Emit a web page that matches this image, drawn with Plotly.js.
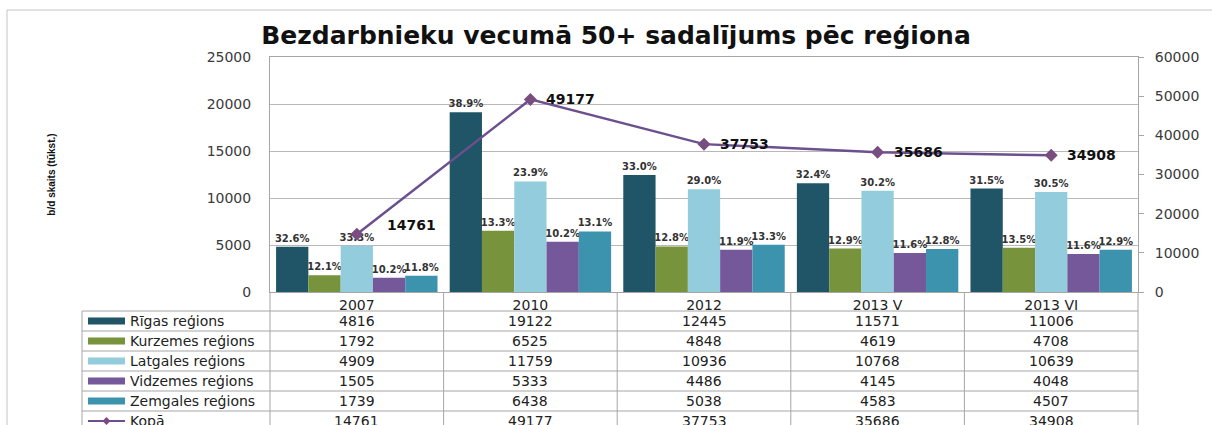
<!DOCTYPE html>
<html><head><meta charset="utf-8">
<script src="https://cdn.plot.ly/plotly-3.0.1.min.js"></script>
<style>html,body{margin:0;padding:0;background:#fff;}#chart{width:1212px;height:425px;}</style>
</head><body><div id="chart"></div>
<script>
// ---- data ----
const categories = ['2007', '2010', '2012', '2013 V', '2013 VI'];
const seriesNames = ['Rīgas reģions', 'Kurzemes reģions', 'Latgales reģions', 'Vidzemes reģions', 'Zemgales reģions'];
const rigas    = [4816, 19122, 12445, 11571, 11006];
const kurzemes = [1792, 6525, 4848, 4619, 4708];
const latgales = [4909, 11759, 10936, 10768, 10639];
const vidzemes = [1505, 5333, 4486, 4145, 4048];
const zemgales = [1739, 6438, 5038, 4583, 4507];
const kopa     = [14761, 49177, 37753, 35686, 34908];
const rigasPct    = ['32.6%', '38.9%', '33.0%', '32.4%', '31.5%'];
const kurzemesPct = ['12.1%', '13.3%', '12.8%', '12.9%', '13.5%'];
const latgalesPct = ['33.3%', '23.9%', '29.0%', '30.2%', '30.5%'];
const vidzemesPct = ['10.2%', '10.2%', '11.9%', '11.6%', '11.6%'];
const zemgalesPct = ['11.8%', '13.1%', '13.3%', '12.8%', '12.9%'];
const totalName = 'Kopā';
const chartTitle = 'Bezdarbnieku vecumā 50+ sadalījums pēc reģiona';
const yTitle = 'b/d skaits (tūkst.)';

// ---- styles ----
const colors = ['#1f5566', '#77933c', '#93cddd', '#75589a', '#3c93ad'];
const lineColor = '#6b4f8e';
const markerColor = '#7a4d80';
const gridColor = '#b8b8b8';
const axisColor = '#a6a6a6';
const tickColor = '#3a3a3a';

const W = 1212, H = 425;
const plotLeft = 270, plotRight = 1138, plotTop = 57, plotBottom = 292;
const plotW = plotRight - plotLeft, plotH = plotBottom - plotTop;
const px2x = p => (p - plotLeft) / plotW;
const px2y = p => (plotBottom - p) / plotH;

const values = [rigas, kurzemes, latgales, vidzemes, zemgales];
const pcts = [rigasPct, kurzemesPct, latgalesPct, vidzemesPct, zemgalesPct];

const traces = values.map((v, i) => ({
  type: 'bar', name: seriesNames[i], x: categories, y: v,
  marker: {color: colors[i]},
  text: pcts[i], textposition: 'outside', cliponaxis: false, constraintext: 'none',
  textfont: {family: 'DejaVu Sans', size: 10, color: '#333', weight: 'bold'},
  hoverinfo: 'x+y+name'
}));
traces.push({
  type: 'scatter', mode: 'lines+markers', name: totalName, x: categories, y: kopa, yaxis: 'y2',
  line: {color: lineColor, width: 2.5},
  marker: {symbol: 'diamond', size: 10, color: markerColor},
  cliponaxis: false
});

const annotations = [];
// line value labels (x given as category index on the category axis)
kopa.forEach((v, i) => {
  annotations.push({
    x: i, xref: 'x', y: v, yref: 'y2', text: String(v), showarrow: false,
    xanchor: 'left', yanchor: 'middle', xshift: i === 0 ? 28 : 14, yshift: i === 0 ? 9 : 0,
    font: {family: 'DejaVu Sans', size: 14, color: '#111', weight: 'bold'}
  });
});

// data table below the plot
const rowH = 20, tableTop = 311;
const shapes = [];
const rows = values.concat([kopa]);
const rowNames = seriesNames.concat([totalName]);
const legLeft = 82, swX0 = 88, swX1 = 125, nameX = 128;
rows.forEach((r, ri) => {
  const cy = tableTop + rowH * ri + rowH / 2;
  r.forEach((v, ci) => {
    annotations.push({
      x: ci, xref: 'x', y: px2y(cy), yref: 'paper', text: String(v), showarrow: false,
      xanchor: 'center', yanchor: 'middle',
      font: {family: 'DejaVu Sans', size: 14, color: '#222'}
    });
  });
  annotations.push({
    x: px2x(nameX), xref: 'paper', y: px2y(cy), yref: 'paper', text: rowNames[ri], showarrow: false,
    xanchor: 'left', yanchor: 'middle',
    font: {family: 'DejaVu Sans', size: 14, color: '#222'}
  });
  if (ri < values.length) {
    shapes.push({type: 'rect', xref: 'paper', yref: 'paper', x0: px2x(swX0), x1: px2x(swX1),
      y0: px2y(cy - 3.5), y1: px2y(cy + 3.5), fillcolor: colors[ri], line: {width: 0}});
  } else {
    shapes.push({type: 'line', xref: 'paper', yref: 'paper', x0: px2x(swX0), x1: px2x(swX1),
      y0: px2y(cy), y1: px2y(cy), line: {color: lineColor, width: 2}});
    const mx = (swX0 + swX1) / 2, d = 4;
    shapes.push({type: 'path', xref: 'paper', yref: 'paper',
      path: `M ${px2x(mx)},${px2y(cy - d)} L ${px2x(mx + d)},${px2y(cy)} L ${px2x(mx)},${px2y(cy + d)} L ${px2x(mx - d)},${px2y(cy)} Z`,
      fillcolor: markerColor, line: {width: 0}});
  }
  shapes.push({type: 'line', xref: 'paper', yref: 'paper', x0: px2x(legLeft), x1: 1,
    y0: px2y(tableTop + rowH * ri), y1: px2y(tableTop + rowH * ri), line: {color: axisColor, width: 1}});
});
for (let k = 0; k <= categories.length; k++) {
  shapes.push({type: 'line', xref: 'paper', yref: 'paper', x0: k / categories.length, x1: k / categories.length,
    y0: 0, y1: px2y(H + 20), line: {color: axisColor, width: 1}});
}
shapes.push({type: 'line', xref: 'paper', yref: 'paper', x0: px2x(legLeft), x1: px2x(legLeft),
  y0: px2y(tableTop), y1: px2y(H + 20), line: {color: axisColor, width: 1}});
// outer chart border
shapes.push({type: 'rect', xref: 'paper', yref: 'paper', x0: px2x(7), x1: px2x(W + 20),
  y0: px2y(H + 20), y1: px2y(10), line: {color: '#c4c4c4', width: 1}, fillcolor: 'rgba(0,0,0,0)'});

const layout = {
  width: W, height: H,
  margin: {l: plotLeft, r: W - plotRight, t: plotTop, b: H - plotBottom, pad: 0},
  paper_bgcolor: '#fff', plot_bgcolor: '#fff',
  showlegend: false,
  barmode: 'group', bargap: 0.07, bargroupgap: 0,
  title: {text: chartTitle, x: 616 / W, xanchor: 'center', y: 1 - 35 / H, yanchor: 'middle',
    font: {family: 'DejaVu Sans', size: 25, color: '#111', weight: 'bold'}},
  xaxis: {type: 'category', range: [-0.5, categories.length - 0.5], autorange: false,
    showline: true, mirror: true, linecolor: axisColor, ticks: '', showgrid: false,
    tickfont: {family: 'DejaVu Sans', size: 14, color: '#222'}, fixedrange: true},
  yaxis: {range: [0, 25000], dtick: 5000, tickformat: 'd', showline: true, linecolor: axisColor, gridcolor: gridColor,
    ticks: '', zeroline: false, ticklabelstandoff: 15,
    tickfont: {family: 'DejaVu Sans', size: 14, color: tickColor},
    title: {text: yTitle, standoff: 149, font: {family: 'Liberation Sans', size: 10, color: '#111', weight: 'bold'}},
    automargin: false, fixedrange: true},
  yaxis2: {overlaying: 'y', side: 'right', range: [0, 60000], dtick: 10000, tickformat: 'd', showline: true, linecolor: axisColor,
    showgrid: false, zeroline: false, ticks: 'outside', ticklen: 5, tickcolor: axisColor, ticklabelstandoff: 8,
    tickfont: {family: 'DejaVu Sans', size: 14, color: tickColor}, automargin: false, fixedrange: true},
  annotations: annotations,
  shapes: shapes,
  font: {family: 'DejaVu Sans'}
};

Plotly.newPlot('chart', traces, layout, {displayModeBar: false, staticPlot: true});
</script>
</body></html>
